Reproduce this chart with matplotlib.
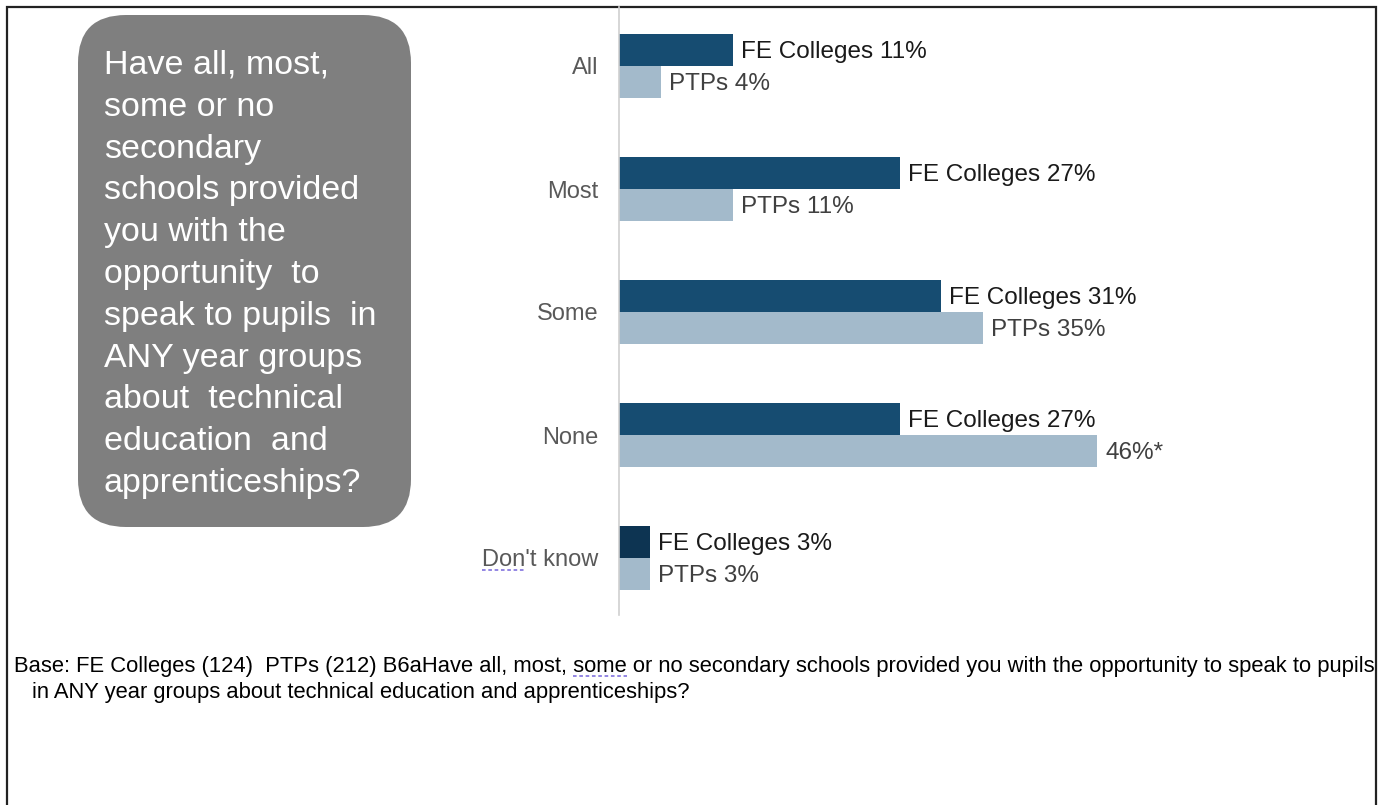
import matplotlib

matplotlib.use("Agg")
import matplotlib.pyplot as plt
from matplotlib.patches import FancyBboxPatch

plt.rcParams["font.family"] = ["Liberation Sans", "DejaVu Sans"]

categories = ["All", "Most", "Some", "None", "Don't know"]
fe_values = [11, 27, 31, 27, 3]
ptp_values = [4, 11, 35, 46, 3]
fe_labels = [f"FE Colleges {v}%" for v in fe_values]
ptp_labels = [f"PTPs {v}%" for v in ptp_values]
ptp_labels[3] = f"{ptp_values[3]}%*"

question_lines = [
    "Have all, most,",
    "some or no",
    "secondary",
    "schools provided",
    "you with the",
    "opportunity  to",
    "speak to pupils  in",
    "ANY year groups",
    "about  technical",
    "education  and",
    "apprenticeships?",
]
base_line1 = ("Base: FE Colleges (124)  PTPs (212) B6aHave all, most, some or no secondary "
              "schools provided you with the opportunity to speak to pupils")
base_line2 = "in ANY year groups about technical education and apprenticeships?"

W, H = 1382, 805
fe_color = "#164C71"
fe_dk_color = "#0D3452"
ptp_color = "#A3BACB"
squiggle = dict(color="#8A7CE0", lw=1.3, ls=(0, (2, 1.5)))

fig = plt.figure(figsize=(W / 100, H / 100), dpi=100)

# full-figure overlay in pixel units
bg = fig.add_axes([0, 0, 1, 1])
bg.set_xlim(0, W)
bg.set_ylim(H, 0)
bg.axis("off")

# page frame (open at the bottom)
bg.plot([7.5, 7.5, 1376.5, 1376.5], [H, 7.5, 7.5, H], color="#222222", lw=1.6,
        solid_joinstyle="miter")

# question box
box = FancyBboxPatch((78, 15), 333, 512, boxstyle="round,pad=0,rounding_size=48",
                     fc="#7F7F7F", ec="none")
bg.add_patch(box)
for i, line in enumerate(question_lines):
    bg.text(104, 74 + 41.8 * i, line, color="white", fontsize=24.5, ha="left", va="baseline")

# base note, scaled to span the frame
t1 = bg.text(14, 672, base_line1, fontsize=13, color="black", ha="left", va="baseline")
t2 = bg.text(32, 698, base_line2, fontsize=13, color="black", ha="left", va="baseline")
fig.canvas.draw()
w1 = t1.get_window_extent().width
fs = 13 * (1364 / w1)
t1.set_fontsize(fs)
t2.set_fontsize(fs)

# bar chart
left, right, top, bottom = 619, 1376, 7, 615
ax = fig.add_axes([left / W, (H - bottom) / H, (right - left) / W, (bottom - top) / H])
ax.patch.set_alpha(0)
px_per_pct = 10.4
ax.set_xlim(0, (right - left) / px_per_pct)
step = 123.0
ax.set_ylim((bottom - 66) / step, -(66 - top) / step)

bar_h = 32 / step
ys = list(range(len(categories)))
fe_colors = [fe_color] * 4 + [fe_dk_color]
ax.barh([y - bar_h / 2 for y in ys], fe_values, height=bar_h, color=fe_colors)
ax.barh([y + bar_h / 2 for y in ys], ptp_values, height=bar_h, color=ptp_color)

off = 8 / px_per_pct
for y, v, lab in zip(ys, fe_values, fe_labels):
    ax.text(v + off, y - bar_h / 2 + 0.02, lab, fontsize=17.5, color="#1A1A1A", ha="left",
            va="center")
for y, v, lab in zip(ys, ptp_values, ptp_labels):
    ax.text(v + off, y + bar_h / 2 + 0.02, lab, fontsize=17.5, color="#404040", ha="left",
            va="center")

ax.set_yticks(ys)
ax.set_yticklabels(categories, fontsize=17, color="#595959")
ax.tick_params(axis="y", length=0, pad=15)
ax.set_xticks([])
for s in ["top", "right", "bottom"]:
    ax.spines[s].set_visible(False)
ax.spines["left"].set_color("#D0D0D0")
ax.spines["left"].set_linewidth(1.2)

# spell-check squiggles under "Don" and "some"
fig.canvas.draw()
r = fig.canvas.get_renderer()
dk = ax.get_yticklabels()[-1].get_window_extent(r)
probe = bg.text(0, 0, "Don", fontsize=17)
don_w = probe.get_window_extent(r).width
probe.remove()
bg.plot([dk.x0, dk.x0 + don_w], [H - dk.y0 - 2, H - dk.y0 - 2], **squiggle)

probe = bg.text(14, 672, base_line1.split(" some ")[0] + " ", fontsize=fs)
s0 = 14 + probe.get_window_extent(r).width
probe.set_text("some")
s_w = probe.get_window_extent(r).width
probe.remove()
bg.plot([s0, s0 + s_w], [676, 676], **squiggle)

fig.savefig("out.png", dpi=100)
